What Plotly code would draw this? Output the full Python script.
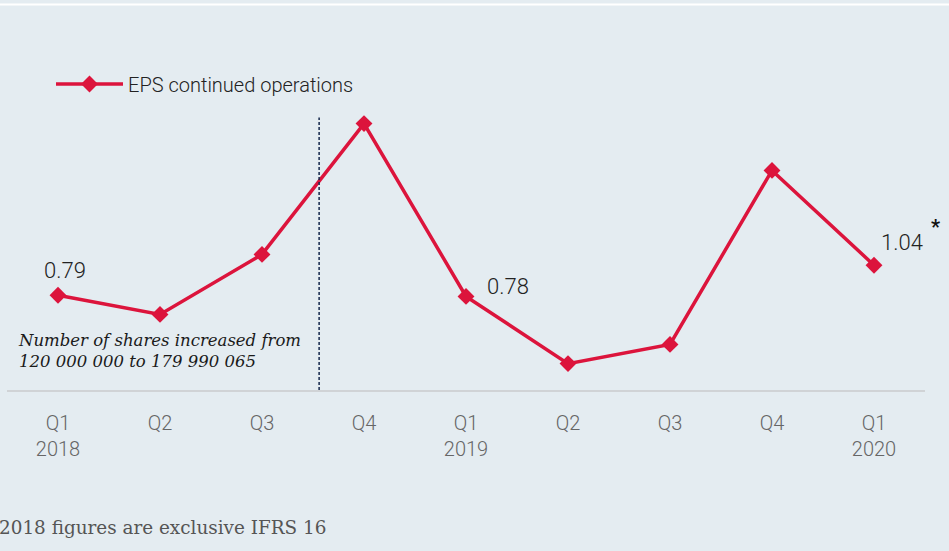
import plotly.graph_objects as go

quarters = ["Q1<br>2018", "Q2", "Q3", "Q4", "Q1<br>2019", "Q2", "Q3", "Q4", "Q1<br>2020"]
eps = [0.79, 0.63, 1.13, 2.22, 0.78, 0.22, 0.38, 1.83, 1.04]
series_name = "EPS continued operations"
labelled = {0: "0.79", 4: "0.78", 8: "1.04"}

RED = "#dc143c"
BG = "#e4ecf1"
W, H = 949, 551
L, R, T, B = 7, 24, 0, 161
pw = W - L - R

x_idx = list(range(len(quarters)))

fig = go.Figure()
fig.add_trace(go.Scatter(
    x=x_idx, y=eps, mode="lines+markers", name=series_name,
    line=dict(color=RED, width=3.5),
    marker=dict(symbol="diamond", size=13, color=RED),
))

# data labels
offsets = {0: (7, -25), 4: (42, -10), 8: (28, -23)}
for i, txt in labelled.items():
    dx, dy = offsets[i]
    fig.add_annotation(x=i, y=eps[i], text=txt, showarrow=False,
                       xshift=dx, yshift=-dy,
                       font=dict(family="Roboto", size=22, color="#222222", weight=300))
fig.add_annotation(x=8, y=eps[8], text="<b>*</b>", showarrow=False,
                   xshift=61, yshift=38,
                   font=dict(family="Roboto", size=20, color="#111111"))

# dashed divider
fig.add_shape(type="line", x0=2.56, x1=2.56, y0=0, y1=2.27,
              line=dict(color="#13264a", width=1.5, dash="3px,2px"))

# white top line
fig.add_shape(type="line", xref="paper", yref="paper",
              x0=-L / pw, x1=1 + R / pw, y0=1 - 4.5 / 390, y1=1 - 4.5 / 390,
              line=dict(color="#ffffff", width=2))

fig.add_annotation(xref="paper", yref="paper",
                   x=(16 - L) / pw, y=(390 - 351) / 390, xanchor="left", yanchor="middle",
                   text="<i>Number of shares increased from<br>120 000 000 to 179 990 065</i>",
                   align="left", showarrow=False,
                   font=dict(family="DejaVu Serif", size=16.5, color="#1a1a1a"))

fig.add_annotation(xref="paper", yref="paper",
                   x=(328 - L) / pw, y=(390 - 527) / 390, xanchor="right", yanchor="middle",
                   text="2018 figures are exclusive IFRS 16", showarrow=False,
                   font=dict(family="DejaVu Serif", size=18.4, color="#555555"))

fig.update_layout(
    width=W, height=H,
    margin=dict(l=L, r=R, t=T, b=B),
    paper_bgcolor=BG, plot_bgcolor=BG,
    showlegend=True,
    legend=dict(x=(51 - L) / pw, y=(390 - 84) / 390, xanchor="left", yanchor="middle",
                orientation="h", itemwidth=67, bgcolor="rgba(0,0,0,0)",
                font=dict(family="Roboto", size=20, color="#222222", weight=300)),
    xaxis=dict(range=[-0.5, 8.5], tickmode="array", tickvals=x_idx, ticktext=quarters,
               showgrid=False, zeroline=False, showline=True, linecolor="#d0d3d6", linewidth=2,
               ticks="outside", ticklen=14, tickcolor="rgba(0,0,0,0)",
               tickfont=dict(family="Roboto", size=20, color="#666666", weight=300)),
    yaxis=dict(range=[0, 3.25], showgrid=False, zeroline=False, showticklabels=False,
               showline=False),
)

fig.write_html("out.html", config={"displayModeBar": False},
               post_script="document.body.style.margin='0';document.body.style.background='%s';" % BG)
